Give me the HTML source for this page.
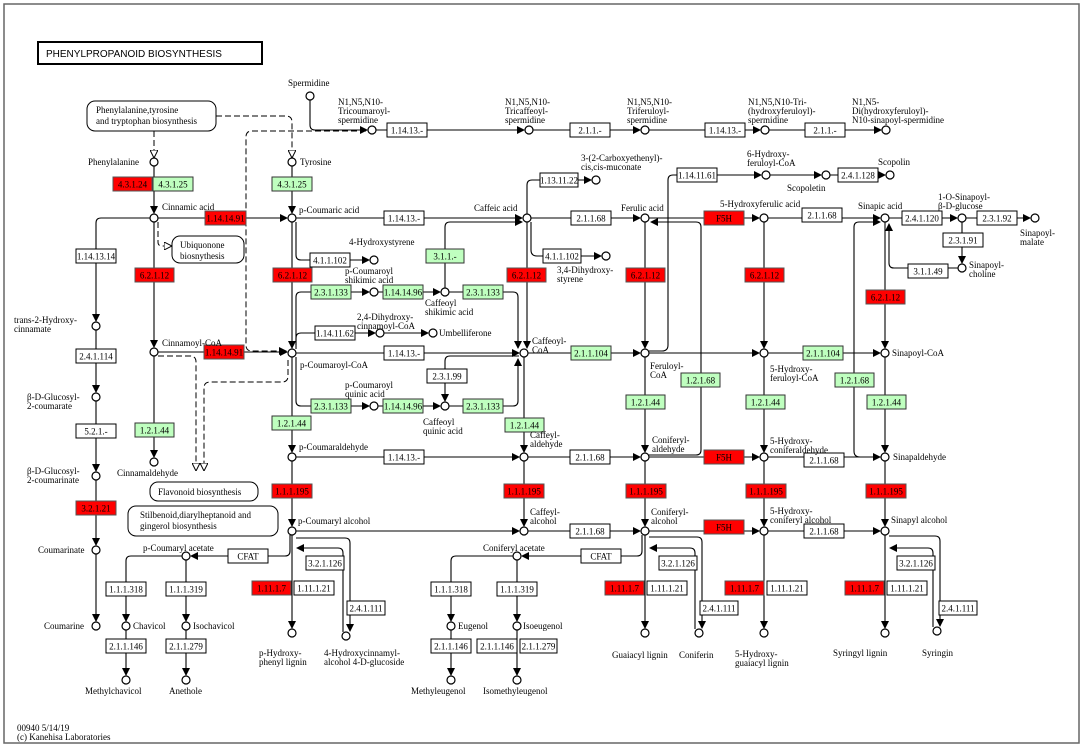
<!DOCTYPE html>
<html><head><meta charset="utf-8"><style>
html,body{margin:0;padding:0;background:#fff}
svg{display:block}
text{font-family:"Liberation Serif",serif;font-size:9px;fill:#000}
.w{fill:#fff;stroke:#000;stroke-width:1}
.r{fill:#f00;stroke:#555;stroke-width:1}
.g{fill:#bfffbf;stroke:#333;stroke-width:1}
.l{fill:none;stroke:#000;stroke-width:1.1}
.d{fill:none;stroke:#000;stroke-width:1;stroke-dasharray:6,3}
.n{fill:#fff;stroke:#000;stroke-width:1.2}
.bt{text-anchor:middle}
</style></head><body>
<svg width="1084" height="748" viewBox="0 0 1084 748" xmlns="http://www.w3.org/2000/svg">
<defs>
<marker id="a" markerWidth="8" markerHeight="8" refX="7" refY="4" orient="auto" markerUnits="userSpaceOnUse"><path d="M0,0 L8,4 L0,8 z" fill="#000"/></marker>
<marker id="h" markerWidth="8" markerHeight="8" refX="7" refY="4" orient="auto" markerUnits="userSpaceOnUse"><path d="M0,0 L8,4 L0,8 z" fill="#fff" stroke="#000"/></marker>
</defs>
<rect x="4" y="4" width="1075" height="739" fill="#fff" stroke="#666" stroke-width="1.5"/>
<rect x="38" y="42" width="224" height="22" fill="#fff" stroke="#000" stroke-width="2"/>
<text x="46" y="57" style="font-family:'Liberation Sans',sans-serif;font-size:10px">PHENYLPROPANOID  BIOSYNTHESIS</text>

<path class="d" d="M154,131 V157" marker-end="url(#h)"/>
<path class="d" d="M216,116 H286 Q292,116 292,122 V157" marker-end="url(#h)"/>
<path class="d" d="M366,131 H252 Q246,131 246,137 V345 Q246,351 252,351 H286" marker-end="url(#a)"/>
<path class="d" d="M158,222 V242 Q158,246 162,246 H171" marker-end="url(#h)"/>
<path class="d" d="M158,356 H190 Q196,356 196,362 V470" marker-end="url(#h)"/>
<path class="d" d="M288,360 V376 Q288,382 282,382 H210 Q204,382 204,388 V470" marker-end="url(#h)"/>

<path class="l" d="M310,100 V125 Q310,130 315,130 H367" marker-end="url(#a)"/>
<path class="l" d="M376,130 H524" marker-end="url(#a)"/>
<path class="l" d="M533,130 H640" marker-end="url(#a)"/>
<path class="l" d="M649,130 H760" marker-end="url(#a)"/>
<path class="l" d="M769,130 H881" marker-end="url(#a)"/>

<path class="l" d="M154,166 V213" marker-end="url(#a)"/>
<path class="l" d="M154,222 V347" marker-end="url(#a)"/>
<path class="l" d="M154,356 V457" marker-end="url(#a)"/>
<path class="l" d="M292,166 V213" marker-end="url(#a)"/>
<path class="l" d="M292,222 V348" marker-end="url(#a)"/>
<path class="l" d="M292,357 V452" marker-end="url(#a)"/>
<path class="l" d="M292,461 V526" marker-end="url(#a)"/>
<path class="l" d="M292,535 V628" marker-end="url(#a)"/>
<path class="l" d="M527,222 V348" marker-end="url(#a)"/>
<path class="l" d="M524,357 V452" marker-end="url(#a)"/>
<path class="l" d="M524,461 V526" marker-end="url(#a)"/>
<path class="l" d="M645,222 V348" marker-end="url(#a)"/>
<path class="l" d="M645,357 V452" marker-end="url(#a)"/>
<path class="l" d="M645,461 V526" marker-end="url(#a)"/>
<path class="l" d="M645,535 V628" marker-end="url(#a)"/>
<path class="l" d="M764,222 V348" marker-end="url(#a)"/>
<path class="l" d="M764,357 V452" marker-end="url(#a)"/>
<path class="l" d="M764,461 V526" marker-end="url(#a)"/>
<path class="l" d="M764,535 V628" marker-end="url(#a)"/>
<path class="l" d="M885,222 V348" marker-end="url(#a)"/>
<path class="l" d="M885,357 V452" marker-end="url(#a)"/>
<path class="l" d="M885,461 V526" marker-end="url(#a)"/>
<path class="l" d="M885,535 V628" marker-end="url(#a)"/>

<path class="l" d="M150,218 H101 Q96,218 96,223 V321" marker-end="url(#a)"/>
<path class="l" d="M96,330 V392" marker-end="url(#a)"/>
<path class="l" d="M96,401 V471" marker-end="url(#a)"/>
<path class="l" d="M96,480 V545" marker-end="url(#a)"/>
<path class="l" d="M96,554 V621" marker-end="url(#a)"/>

<path class="l" d="M158,218 H287" marker-end="url(#a)"/>
<path class="l" d="M296,218 H522" marker-end="url(#a)"/>
<path class="l" d="M531,218 H640" marker-end="url(#a)"/>
<path class="l" d="M649,218 H759" marker-end="url(#a)"/>
<path class="l" d="M768,218 H880" marker-end="url(#a)"/>
<path class="l" d="M889,218 H957" marker-end="url(#a)"/>
<path class="l" d="M966,218 H1030" marker-end="url(#a)"/>
<path class="l" d="M158,352 H287" marker-end="url(#a)"/>
<path class="l" d="M296,353 H519" marker-end="url(#a)"/>
<path class="l" d="M528,353 H640" marker-end="url(#a)"/>
<path class="l" d="M649,353 H759" marker-end="url(#a)"/>
<path class="l" d="M768,353 H880" marker-end="url(#a)"/>
<path class="l" d="M296,457 H519" marker-end="url(#a)"/>
<path class="l" d="M528,457 H640" marker-end="url(#a)"/>
<path class="l" d="M649,457 H759" marker-end="url(#a)"/>
<path class="l" d="M768,457 H880" marker-end="url(#a)"/>
<path class="l" d="M296,531 H519" marker-end="url(#a)"/>
<path class="l" d="M528,531 H640" marker-end="url(#a)"/>
<path class="l" d="M649,531 H759" marker-end="url(#a)"/>
<path class="l" d="M768,531 H880" marker-end="url(#a)"/>

<path class="l" d="M296,222 V255 Q296,260 301,260 H369" marker-end="url(#a)"/>
<path class="l" d="M531,222 V250 Q531,256 537,256 H601" marker-end="url(#a)"/>
<path class="l" d="M527,214 V185 Q527,180 532,180 H591" marker-end="url(#a)"/>
<path class="l" d="M445,288 V227 Q445,222 450,222 H522" marker-end="url(#a)"/>
<path class="l" d="M649,351 H662 Q668,351 668,345 V180 Q668,175 673,175 H761" marker-end="url(#a)"/>
<path class="l" d="M770,175 H821" marker-end="url(#a)"/>
<path class="l" d="M830,175 H885" marker-end="url(#a)"/>
<path class="l" d="M649,455 H696 Q701,455 701,450 V227 Q701,222 696,222 H651" marker-end="url(#a)"/>
<path class="l" d="M881,457 H860 Q854,457 854,451 V227 Q854,222 859,222 H880" marker-end="url(#a)"/>
<path class="l" d="M958,268 H894 Q889,268 889,263 V224" marker-end="url(#a)"/>
<path class="l" d="M962,222 V263" marker-end="url(#a)"/>
<path class="l" d="M296,349 V297 Q296,292 301,292 H369" marker-end="url(#a)"/>
<path class="l" d="M378,292 H440" marker-end="url(#a)"/>
<path class="l" d="M449,292 H513 Q518,292 518,297 V348" marker-end="url(#a)"/>
<path class="l" d="M296,345 V338 Q296,333 301,333 H375" marker-end="url(#a)"/>
<path class="l" d="M384,333 H428" marker-end="url(#a)"/>
<path class="l" d="M296,357 V401 Q296,406 301,406 H369" marker-end="url(#a)"/>
<path class="l" d="M378,406 H440" marker-end="url(#a)"/>
<path class="l" d="M449,406 H513 Q518,406 518,401 V359" marker-end="url(#a)"/>
<path class="l" d="M519,356 H450 Q445,356 445,361 V401" marker-end="url(#a)"/>

<path class="l" d="M290,535 V551 Q290,556 285,556 H191" marker-end="url(#a)"/>
<path class="l" d="M182,556 H131 Q126,556 126,561 V621" marker-end="url(#a)"/>
<path class="l" d="M186,560 V621" marker-end="url(#a)"/>
<path class="l" d="M126,630 V675" marker-end="url(#a)"/>
<path class="l" d="M186,630 V675" marker-end="url(#a)"/>
<path class="l" d="M296,538 H345 Q350,538 350,543 V631" marker-end="url(#a)"/>
<path class="l" d="M343,632 V553 Q343,548 338,548 H297" marker-end="url(#a)"/>
<path class="l" d="M642,535 V551 Q642,556 637,556 H522" marker-end="url(#a)"/>
<path class="l" d="M513,556 H456 Q451,556 451,561 V621" marker-end="url(#a)"/>
<path class="l" d="M517,560 V621" marker-end="url(#a)"/>
<path class="l" d="M451,630 V675" marker-end="url(#a)"/>
<path class="l" d="M517,630 V675" marker-end="url(#a)"/>
<path class="l" d="M649,537 H697 Q702,537 702,542 V628" marker-end="url(#a)"/>
<path class="l" d="M695,629 V553 Q695,548 690,548 H650" marker-end="url(#a)"/>
<path class="l" d="M889,536 H935 Q940,536 940,541 V626" marker-end="url(#a)"/>
<path class="l" d="M933,627 V553 Q933,548 928,548 H890" marker-end="url(#a)"/>

<rect x="87" y="101" width="129" height="30" rx="8" class="w"/>
<text x="96" y="113">Phenylalanine,tyrosine</text><text x="96" y="124">and tryptophan biosynthesis</text>
<rect x="172" y="236" width="72" height="27" rx="8" class="w"/>
<text x="180" y="248">Ubiquonone</text><text x="180" y="259">biosnythesis</text>
<rect x="150" y="482" width="108" height="19" rx="8" class="w"/>
<text x="158" y="495">Flavonoid biosynthesis</text>
<rect x="128" y="506" width="150" height="30" rx="8" class="w"/>
<text x="140" y="518">Stilbenoid,diarylheptanoid and</text><text x="140" y="529">gingerol biosynthesis</text>

<g>
<rect x="387" y="123" width="40" height="14" class="w"/><text x="407" y="133.5" class="bt">1.14.13.-</text>
<rect x="570" y="123" width="40" height="14" class="w"/><text x="590" y="133.5" class="bt">2.1.1.-</text>
<rect x="705" y="123" width="40" height="14" class="w"/><text x="725" y="133.5" class="bt">1.14.13.-</text>
<rect x="805" y="123" width="40" height="14" class="w"/><text x="825" y="133.5" class="bt">2.1.1.-</text>

<rect x="113" y="177" width="39" height="14" class="r"/><text x="132.5" y="187.5" class="bt">4.3.1.24</text>
<rect x="153" y="177" width="40" height="14" class="g"/><text x="173" y="187.5" class="bt">4.3.1.25</text>
<rect x="272" y="177" width="40" height="14" class="g"/><text x="292" y="187.5" class="bt">4.3.1.25</text>

<rect x="540" y="173" width="38" height="14" class="w"/><text x="559" y="183.5" class="bt">1.13.11.22</text>
<rect x="677" y="168" width="40" height="14" class="w"/><text x="697" y="178.5" class="bt">1.14.11.61</text>
<rect x="838" y="168" width="40" height="14" class="w"/><text x="858" y="178.5" class="bt">2.4.1.128</text>

<rect x="205" y="211" width="41" height="14" class="r"/><text x="225.5" y="221.5" class="bt">1.14.14.91</text>
<rect x="384" y="211" width="40" height="14" class="w"/><text x="404" y="221.5" class="bt">1.14.13.-</text>
<rect x="571" y="211" width="40" height="14" class="w"/><text x="591" y="221.5" class="bt">2.1.1.68</text>
<rect x="704" y="211" width="40" height="14" class="r"/><text x="724" y="221.5" class="bt">F5H</text>
<rect x="802" y="208" width="40" height="14" class="w"/><text x="822" y="218.5" class="bt">2.1.1.68</text>
<rect x="902" y="211" width="40" height="14" class="w"/><text x="922" y="221.5" class="bt">2.4.1.120</text>
<rect x="977" y="211" width="40" height="14" class="w"/><text x="997" y="221.5" class="bt">2.3.1.92</text>
<rect x="943" y="233" width="40" height="14" class="w"/><text x="963" y="243.5" class="bt">2.3.1.91</text>
<rect x="908" y="264" width="40" height="14" class="w"/><text x="928" y="274.5" class="bt">3.1.1.49</text>

<rect x="76" y="249" width="40" height="14" class="w"/><text x="96" y="259.5" class="bt">1.14.13.14</text>
<rect x="76" y="349" width="40" height="14" class="w"/><text x="96" y="359.5" class="bt">2.4.1.114</text>
<rect x="76" y="424" width="40" height="14" class="w"/><text x="96" y="434.5" class="bt">5.2.1.-</text>
<rect x="76" y="501" width="40" height="14" class="r"/><text x="96" y="511.5" class="bt">3.2.1.21</text>

<rect x="310" y="253" width="40" height="14" class="w"/><text x="330" y="263.5" class="bt">4.1.1.102</text>
<rect x="543" y="249" width="38" height="14" class="w"/><text x="562" y="259.5" class="bt">4.1.1.102</text>
<rect x="426" y="249" width="38" height="14" class="g"/><text x="445" y="259.5" class="bt">3.1.1.-</text>

<rect x="135" y="268" width="39" height="14" class="r"/><text x="154.5" y="278.5" class="bt">6.2.1.12</text>
<rect x="273" y="268" width="39" height="14" class="r"/><text x="292.5" y="278.5" class="bt">6.2.1.12</text>
<rect x="507" y="268" width="39" height="14" class="r"/><text x="526.5" y="278.5" class="bt">6.2.1.12</text>
<rect x="626" y="268" width="39" height="14" class="r"/><text x="645.5" y="278.5" class="bt">6.2.1.12</text>
<rect x="745" y="268" width="39" height="14" class="r"/><text x="764.5" y="278.5" class="bt">6.2.1.12</text>
<rect x="866" y="290" width="39" height="14" class="r"/><text x="885.5" y="300.5" class="bt">6.2.1.12</text>

<rect x="311" y="285" width="40" height="14" class="g"/><text x="331" y="295.5" class="bt">2.3.1.133</text>
<rect x="383" y="285" width="40" height="14" class="g"/><text x="403" y="295.5" class="bt">1.14.14.96</text>
<rect x="463" y="285" width="40" height="14" class="g"/><text x="483" y="295.5" class="bt">2.3.1.133</text>
<rect x="315" y="326" width="40" height="14" class="w"/><text x="335" y="336.5" class="bt">1.14.11.62</text>

<rect x="204" y="345" width="40" height="14" class="r"/><text x="224" y="355.5" class="bt">1.14.14.91</text>
<rect x="384" y="346" width="40" height="14" class="w"/><text x="404" y="356.5" class="bt">1.14.13.-</text>
<rect x="571" y="346" width="40" height="14" class="g"/><text x="591" y="356.5" class="bt">2.1.1.104</text>
<rect x="803" y="346" width="40" height="14" class="g"/><text x="823" y="356.5" class="bt">2.1.1.104</text>
<rect x="681" y="373" width="39" height="14" class="g"/><text x="700.5" y="383.5" class="bt">1.2.1.68</text>
<rect x="835" y="373" width="39" height="14" class="g"/><text x="854.5" y="383.5" class="bt">1.2.1.68</text>
<rect x="427" y="369" width="40" height="14" class="w"/><text x="447" y="379.5" class="bt">2.3.1.99</text>

<rect x="311" y="399" width="40" height="14" class="g"/><text x="331" y="409.5" class="bt">2.3.1.133</text>
<rect x="383" y="399" width="40" height="14" class="g"/><text x="403" y="409.5" class="bt">1.14.14.96</text>
<rect x="463" y="399" width="40" height="14" class="g"/><text x="483" y="409.5" class="bt">2.3.1.133</text>

<rect x="135" y="423" width="39" height="14" class="g"/><text x="154.5" y="433.5" class="bt">1.2.1.44</text>
<rect x="272" y="416" width="39" height="14" class="g"/><text x="291.5" y="426.5" class="bt">1.2.1.44</text>
<rect x="505" y="418" width="39" height="14" class="g"/><text x="524.5" y="428.5" class="bt">1.2.1.44</text>
<rect x="626" y="395" width="39" height="14" class="g"/><text x="645.5" y="405.5" class="bt">1.2.1.44</text>
<rect x="746" y="395" width="39" height="14" class="g"/><text x="765.5" y="405.5" class="bt">1.2.1.44</text>
<rect x="867" y="395" width="39" height="14" class="g"/><text x="886.5" y="405.5" class="bt">1.2.1.44</text>

<rect x="384" y="450" width="40" height="14" class="w"/><text x="404" y="460.5" class="bt">1.14.13.-</text>
<rect x="570" y="450" width="40" height="14" class="w"/><text x="590" y="460.5" class="bt">2.1.1.68</text>
<rect x="704" y="450" width="40" height="14" class="r"/><text x="724" y="460.5" class="bt">F5H</text>
<rect x="804" y="453" width="40" height="14" class="w"/><text x="824" y="463.5" class="bt">2.1.1.68</text>

<rect x="272" y="484" width="40" height="14" class="r"/><text x="292" y="494.5" class="bt">1.1.1.195</text>
<rect x="504" y="484" width="40" height="14" class="r"/><text x="524" y="494.5" class="bt">1.1.1.195</text>
<rect x="626" y="484" width="40" height="14" class="r"/><text x="646" y="494.5" class="bt">1.1.1.195</text>
<rect x="746" y="484" width="40" height="14" class="r"/><text x="766" y="494.5" class="bt">1.1.1.195</text>
<rect x="866" y="484" width="40" height="14" class="r"/><text x="886" y="494.5" class="bt">1.1.1.195</text>

<rect x="570" y="524" width="40" height="14" class="w"/><text x="590" y="534.5" class="bt">2.1.1.68</text>
<rect x="704" y="520" width="40" height="14" class="r"/><text x="724" y="530.5" class="bt">F5H</text>
<rect x="804" y="524" width="40" height="14" class="w"/><text x="824" y="534.5" class="bt">2.1.1.68</text>

<rect x="228" y="549" width="40" height="14" class="w"/><text x="248" y="559.5" class="bt">CFAT</text>
<rect x="581" y="549" width="40" height="14" class="w"/><text x="601" y="559.5" class="bt">CFAT</text>

<rect x="306" y="556" width="38" height="14" class="w"/><text x="325" y="566.5" class="bt">3.2.1.126</text>
<rect x="659" y="556" width="38" height="14" class="w"/><text x="678" y="566.5" class="bt">3.2.1.126</text>
<rect x="897" y="556" width="38" height="14" class="w"/><text x="916" y="566.5" class="bt">3.2.1.126</text>

<rect x="106" y="582" width="40" height="14" class="w"/><text x="126" y="592.5" class="bt">1.1.1.318</text>
<rect x="166" y="582" width="40" height="14" class="w"/><text x="186" y="592.5" class="bt">1.1.1.319</text>
<rect x="431" y="582" width="40" height="14" class="w"/><text x="451" y="592.5" class="bt">1.1.1.318</text>
<rect x="497" y="582" width="40" height="14" class="w"/><text x="517" y="592.5" class="bt">1.1.1.319</text>

<rect x="252" y="581" width="39" height="14" class="r"/><text x="271.5" y="591.5" class="bt">1.11.1.7</text>
<rect x="294" y="581" width="40" height="14" class="w"/><text x="314" y="591.5" class="bt">1.11.1.21</text>
<rect x="605" y="581" width="39" height="14" class="r"/><text x="624.5" y="591.5" class="bt">1.11.1.7</text>
<rect x="647" y="581" width="40" height="14" class="w"/><text x="667" y="591.5" class="bt">1.11.1.21</text>
<rect x="725" y="581" width="39" height="14" class="r"/><text x="744.5" y="591.5" class="bt">1.11.1.7</text>
<rect x="767" y="581" width="40" height="14" class="w"/><text x="787" y="591.5" class="bt">1.11.1.21</text>
<rect x="845" y="581" width="39" height="14" class="r"/><text x="864.5" y="591.5" class="bt">1.11.1.7</text>
<rect x="887" y="581" width="40" height="14" class="w"/><text x="907" y="591.5" class="bt">1.11.1.21</text>

<rect x="347" y="601" width="38" height="14" class="w"/><text x="366" y="611.5" class="bt">2.4.1.111</text>
<rect x="700" y="601" width="38" height="14" class="w"/><text x="719" y="611.5" class="bt">2.4.1.111</text>
<rect x="939" y="601" width="38" height="14" class="w"/><text x="958" y="611.5" class="bt">2.4.1.111</text>

<rect x="106" y="639" width="40" height="14" class="w"/><text x="126" y="649.5" class="bt">2.1.1.146</text>
<rect x="166" y="639" width="40" height="14" class="w"/><text x="186" y="649.5" class="bt">2.1.1.279</text>
<rect x="431" y="639" width="40" height="14" class="w"/><text x="451" y="649.5" class="bt">2.1.1.146</text>
<rect x="477" y="639" width="40" height="14" class="w"/><text x="497" y="649.5" class="bt">2.1.1.146</text>
<rect x="520" y="639" width="37" height="14" class="w"/><text x="538.5" y="649.5" class="bt">2.1.1.279</text>
</g>

<g class="n">
<circle cx="310" cy="96" r="4"/><circle cx="372" cy="130" r="4"/><circle cx="529" cy="130" r="4"/><circle cx="645" cy="130" r="4"/><circle cx="765" cy="130" r="4"/><circle cx="886" cy="130" r="4"/>
<circle cx="154" cy="162" r="4"/><circle cx="292" cy="162" r="4"/>
<circle cx="154" cy="218" r="4"/><circle cx="292" cy="218" r="4"/><circle cx="527" cy="218" r="4"/><circle cx="645" cy="218" r="4"/><circle cx="764" cy="218" r="4"/><circle cx="885" cy="218" r="4"/><circle cx="962" cy="218" r="4"/><circle cx="1035" cy="218" r="4"/><circle cx="962" cy="268" r="4"/>
<circle cx="596" cy="180" r="4"/><circle cx="766" cy="175" r="4"/><circle cx="826" cy="175" r="4"/><circle cx="890" cy="175" r="4"/>
<circle cx="374" cy="260" r="4"/><circle cx="606" cy="256" r="4"/>
<circle cx="374" cy="292" r="4"/><circle cx="445" cy="292" r="4"/><circle cx="380" cy="333" r="4"/><circle cx="433" cy="333" r="4"/>
<circle cx="154" cy="352" r="4"/><circle cx="292" cy="353" r="4"/><circle cx="524" cy="353" r="4"/><circle cx="645" cy="353" r="4"/><circle cx="764" cy="353" r="4"/><circle cx="885" cy="353" r="4"/>
<circle cx="374" cy="406" r="4"/><circle cx="445" cy="406" r="4"/>
<circle cx="96" cy="326" r="4"/><circle cx="96" cy="397" r="4"/><circle cx="96" cy="476" r="4"/><circle cx="96" cy="550" r="4"/><circle cx="96" cy="626" r="4"/>
<circle cx="154" cy="462" r="4"/>
<circle cx="292" cy="457" r="4"/><circle cx="524" cy="457" r="4"/><circle cx="645" cy="457" r="4"/><circle cx="764" cy="457" r="4"/><circle cx="885" cy="457" r="4"/>
<circle cx="292" cy="531" r="4"/><circle cx="524" cy="531" r="4"/><circle cx="645" cy="531" r="4"/><circle cx="764" cy="531" r="4"/><circle cx="885" cy="531" r="4"/>
<circle cx="186" cy="556" r="4"/><circle cx="517" cy="556" r="4"/>
<circle cx="126" cy="626" r="4"/><circle cx="186" cy="626" r="4"/><circle cx="126" cy="680" r="4"/><circle cx="186" cy="680" r="4"/>
<circle cx="451" cy="626" r="4"/><circle cx="517" cy="626" r="4"/><circle cx="451" cy="680" r="4"/><circle cx="517" cy="680" r="4"/>
<circle cx="292" cy="633" r="4"/><circle cx="346" cy="636" r="4"/><circle cx="645" cy="633" r="4"/><circle cx="699" cy="633" r="4"/><circle cx="764" cy="633" r="4"/><circle cx="885" cy="633" r="4"/><circle cx="937" cy="631" r="4"/>
</g>

<text x="288" y="86">Spermidine</text>
<text x="338" y="105">N1,N5,N10-</text><text x="338" y="114">Tricoumaroyl-</text><text x="338" y="123">spermidine</text>
<text x="505" y="105">N1,N5,N10-</text><text x="505" y="114">Tricaffeoyl-</text><text x="505" y="123">spermidine</text>
<text x="627" y="105">N1,N5,N10-</text><text x="627" y="114">Triferuloyl-</text><text x="627" y="123">spermidine</text>
<text x="748" y="105">N1,N5,N10-Tri-</text><text x="748" y="114">(hydroxyferuloyl)-</text><text x="748" y="123">spermidine</text>
<text x="852" y="105">N1,N5-</text><text x="852" y="114">Di(hydroxyferuloyl)-</text><text x="852" y="123">N10-sinapoyl-spermidine</text>
<text x="88" y="165">Phenylalanine</text>
<text x="300" y="165">Tyrosine</text>
<text x="162" y="210">Cinnamic acid</text>
<text x="299" y="213">p-Coumaric acid</text>
<text x="474" y="211">Caffeic acid</text>
<text x="621" y="211">Ferulic acid</text>
<text x="720" y="207">5-Hydroxyferulic acid</text>
<text x="858" y="209">Sinapic acid</text>
<text x="938" y="200">1-O-Sinapoyl-</text><text x="938" y="209">β-D-glucose</text>
<text x="1020" y="236">Sinapoyl-</text><text x="1020" y="245">malate</text>
<text x="969" y="268">Sinapoyl-</text><text x="969" y="277">choline</text>
<text x="581" y="161">3-(2-Carboxyethenyl)-</text><text x="581" y="170">cis,cis-muconate</text>
<text x="747" y="157">6-Hydroxy-</text><text x="747" y="166">feruloyl-CoA</text>
<text x="787" y="191">Scopoletin</text>
<text x="878" y="165">Scopolin</text>
<text x="349" y="245">4-Hydroxystyrene</text>
<text x="557" y="273">3,4-Dihydroxy-</text><text x="557" y="282">styrene</text>
<text x="345" y="274">p-Coumaroyl</text><text x="345" y="283">shikimic acid</text>
<text x="425" y="306">Caffeoyl</text><text x="425" y="315">shikimic acid</text>
<text x="357" y="320">2,4-Dihydroxy-</text><text x="357" y="329">cinnamoyl-CoA</text>
<text x="439" y="336">Umbelliferone</text>
<text x="532" y="344">Caffeoyl-</text><text x="532" y="353">CoA</text>
<text x="300" y="368">p-Coumaroyl-CoA</text>
<text x="162" y="346">Cinnamoyl-CoA</text>
<text x="650" y="369">Feruloyl-</text><text x="650" y="378">CoA</text>
<text x="770" y="372">5-Hydroxy-</text><text x="770" y="381">feruloyl-CoA</text>
<text x="892" y="356">Sinapoyl-CoA</text>
<text x="345" y="388">p-Coumaroyl</text><text x="345" y="397">quinic acid</text>
<text x="423" y="425">Caffeoyl</text><text x="423" y="434">quinic acid</text>
<text x="14" y="323">trans-2-Hydroxy-</text><text x="14" y="332">cinnamate</text>
<text x="27" y="400">β-D-Glucosyl-</text><text x="27" y="409">2-coumarate</text>
<text x="27" y="474">β-D-Glucosyl-</text><text x="27" y="483">2-coumarinate</text>
<text x="38" y="553">Coumarinate</text>
<text x="44" y="629">Coumarine</text>
<text x="117" y="476">Cinnamaldehyde</text>
<text x="299" y="450">p-Coumaraldehyde</text>
<text x="530" y="438">Caffeyl-</text><text x="530" y="447">aldehyde</text>
<text x="652" y="443">Coniferyl-</text><text x="652" y="452">aldehyde</text>
<text x="770" y="444">5-Hydroxy-</text><text x="770" y="453">coniferaldehyde</text>
<text x="893" y="460">Sinapaldehyde</text>
<text x="298" y="524">p-Coumaryl alcohol</text>
<text x="530" y="515">Caffeyl-</text><text x="530" y="524">alcohol</text>
<text x="651" y="515">Coniferyl-</text><text x="651" y="524">alcohol</text>
<text x="770" y="514">5-Hydroxy-</text><text x="770" y="523">coniferyl alcohol</text>
<text x="891" y="523">Sinapyl alcohol</text>
<text x="143" y="551">p-Coumaryl acetate</text>
<text x="483" y="551">Coniferyl acetate</text>
<text x="133" y="629">Chavicol</text>
<text x="193" y="629">Isochavicol</text>
<text x="85" y="694">Methylchavicol</text>
<text x="169" y="694">Anethole</text>
<text x="458" y="629">Eugenol</text>
<text x="523" y="629">Isoeugenol</text>
<text x="411" y="694">Methyleugenol</text>
<text x="483" y="694">Isomethyleugenol</text>
<text x="259" y="656">p-Hydroxy-</text><text x="259" y="665">phenyl lignin</text>
<text x="324" y="656">4-Hydroxycinnamyl-</text><text x="324" y="665">alcohol 4-D-glucoside</text>
<text x="612" y="658">Guaiacyl lignin</text>
<text x="679" y="658">Coniferin</text>
<text x="735" y="657">5-Hydroxy-</text><text x="735" y="666">guaiacyl lignin</text>
<text x="833" y="656">Syringyl lignin</text>
<text x="922" y="656">Syringin</text>
<text x="17" y="731">00940 5/14/19</text>
<text x="17" y="740">(c) Kanehisa Laboratories</text>
</svg>
</body></html>
